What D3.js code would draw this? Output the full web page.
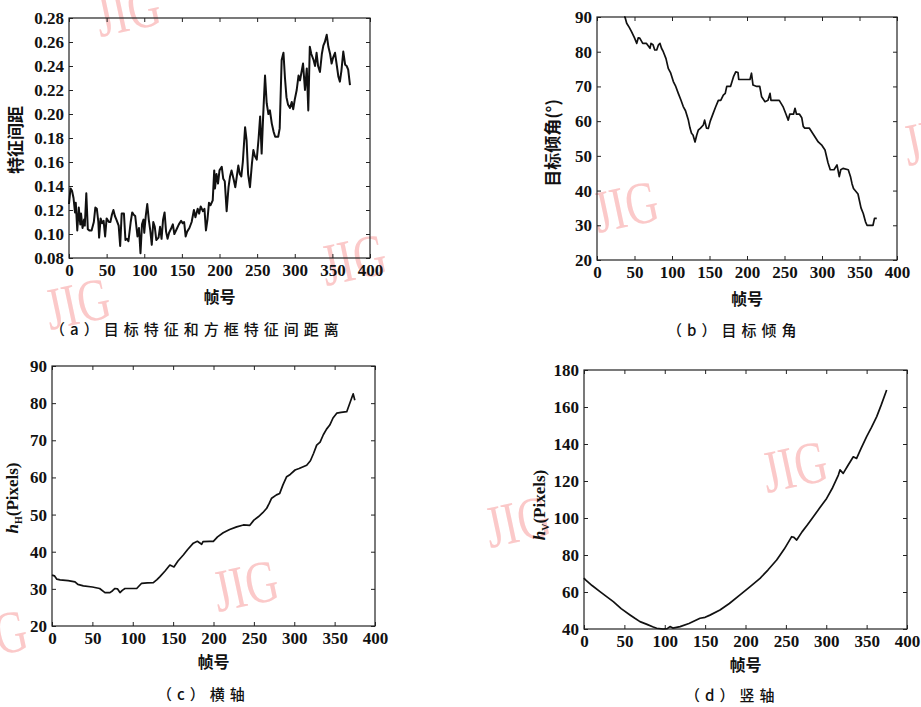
<!DOCTYPE html>
<html>
<head>
<meta charset="utf-8">
<script src="https://cdn.jsdelivr.net/npm/d3@7"></script>
<style>
  body { margin: 0; background: #fff; }
</style>
</head>
<body>
<div id="chart"></div>
<script>
// ---- data ----
// (a) distance between target feature and box feature
const aFrames = [0,2,4,6,8,9,11,13,15,16,18,20,21,23,25,27,30,33,35,37,39,40,42,44,46,48,50,53,55,57,59,61,63,66,68,70,73,75,77,79,82,84,86,88,91,93,95,97,99,100,102,104,106,108,110,112,114,116,119,121,123,125,127,129,131,133,136,138,140,143,146,149,151,153,155,157,160,163,166,168,171,173,175,178,180,182,184,186,188,191,193,194,196,198,200,203,205,207,209.5,212,214,216,219,221,223,225,227,229,231,234,236,238,240.5,243,245,247,249.5,252,254,256,258,260.5,262.7,265,267,269.5,272,274,278,280,282.6,285,287,289,291,293.7,296,298,300,302.6,305,307,309,311,313.6,316,318,320,322,325,327,329,331,333.5,336,338,340,342.5,344.7,347,349,351,353.5,356,358,360,362,364.5,367,369,371,373.4];
const aValues = [0.125,0.138,0.136,0.130,0.118,0.126,0.103,0.122,0.108,0.117,0.105,0.112,0.107,0.134,0.104,0.103,0.103,0.110,0.122,0.121,0.110,0.097,0.113,0.109,0.111,0.098,0.113,0.110,0.110,0.116,0.120,0.115,0.112,0.107,0.090,0.117,0.117,0.095,0.096,0.094,0.110,0.118,0.116,0.115,0.098,0.105,0.084,0.108,0.112,0.101,0.115,0.125,0.112,0.103,0.091,0.110,0.106,0.095,0.097,0.106,0.096,0.112,0.118,0.102,0.096,0.101,0.105,0.108,0.100,0.104,0.108,0.111,0.109,0.110,0.098,0.102,0.105,0.110,0.120,0.114,0.121,0.117,0.123,0.119,0.121,0.103,0.112,0.126,0.124,0.128,0.153,0.138,0.150,0.142,0.153,0.156,0.146,0.144,0.119,0.139,0.148,0.153,0.145,0.139,0.148,0.157,0.150,0.148,0.160,0.189,0.178,0.150,0.139,0.158,0.170,0.165,0.162,0.180,0.198,0.167,0.198,0.232,0.209,0.200,0.203,0.192,0.185,0.181,0.181,0.188,0.245,0.251,0.230,0.214,0.208,0.205,0.210,0.204,0.212,0.220,0.232,0.228,0.235,0.242,0.220,0.238,0.203,0.256,0.250,0.245,0.240,0.251,0.240,0.235,0.250,0.257,0.260,0.266,0.256,0.250,0.242,0.247,0.251,0.240,0.231,0.227,0.236,0.252,0.241,0.240,0.237,0.224];

// (b) target tilt angle
const bFrames = [36,37.3,39.6,43,46,50,53,55,57,61,66,70.7,72,74.7,77,79.6,82,84,86,88.4,92,95,98,101.8,105,108.4,112,115,118,121.8,124,126,128,130.7,133,135,138,141.8,143.5,146,148.4,151,155,158,161.8,165,168.4,171,173,178,182,185,188,189,194,199,204,206,208,213,217,219.5,224,228,230.7,232,237,243,248,252,255,257,262,264,266,270,273,275,277,283,286,289,295,300,304,308,311,316,320,323,325,328,335,338,340,342,348,350,352,355,358,360,365,368,370,373];
const bValues = [90,90,88.2,87,85.8,84,82.4,84,83.9,82.4,82.4,81,82.4,82,80.5,80.5,82,82.4,81,80,78,75.2,74,71.4,70,68,66,64.2,63,60.3,58,56.5,56,54,56,57.4,58,58.9,60.3,58,57.9,60,62.3,64,66,66,67.5,68,70,70,72.8,74.2,74,72,72,72,72,73.8,70.4,70,70,67,65.6,66,68,66,66,66,64.2,62,60.3,62,62,63.7,62,62,61,58.5,58,58,57,56,54,53,51.7,48,46,46,47.4,44,46,46.4,46,44,42,40.6,39,37,35,33.4,31,30,30,30,32,32];

// (c) horizontal axis h_H
const cFrames = [0,3,6,10,20,28.5,32,38.8,50,59,65.6,71.8,75,78,81,84.2,87,90.4,100,104.9,111,118,125.5,130,133.7,140,146,151,156,162.6,168,175,180,185.3,187,195,199.8,205,212,220,228.7,237,245,250,255.5,261,265.9,269,272,278,282,286,290.6,295,301,306,315.4,320,324,327.8,332,336,340,344,348,352.6,358,365,368,371,373,375];
const cValues = [33.7,33.5,32.6,32.4,32.2,31.9,31.2,30.8,30.5,30.1,29,29,29.5,30.1,30,29,29.6,30.1,30.1,30.1,31.5,31.6,31.7,32.5,33.3,34.8,36.4,35.9,37.5,39.1,40.6,42.3,42.8,42,42.7,42.8,42.8,44,45.1,46,46.7,47.2,47.1,48.5,49.4,50.5,51.7,53,54.4,55.3,55.7,58,60.2,60.8,62,62.4,63.3,64.5,66.5,68.7,69.5,71.5,73,74.1,76,77.3,77.5,77.7,79.5,81.3,82.5,80.8];

// (d) vertical axis h_V
const dFrames = [0,1.2,10,19.8,28,36.3,46,57,63,69.3,78,85,90,98,103,106.5,110,119,130,143.7,150,156,168.4,180,193.2,205,218,228,238.6,248,257.2,260,263.4,270,277,284,292,300.5,308,315,317,321,327,333.5,337.6,343,350,356,362.5,368,374.8];
const dValues = [67.6,66.8,63.5,60.2,57.5,54.8,51,47.6,45.8,44,42.5,41.2,40.4,40,40.2,41.3,40.5,41.3,43,45.8,46.3,47.5,50.3,53.8,58.4,62.6,67.4,72,77.3,83.2,89.9,89.5,88.1,92.5,96.5,100.7,105.5,110.6,116.5,123.2,126,124.1,128.5,133.1,132.2,137.5,144,149,154.8,161,169.2];

const xTicks = [0, 50, 100, 150, 200, 250, 300, 350, 400];
const aYTicks = [0.08, 0.10, 0.12, 0.14, 0.16, 0.18, 0.20, 0.22, 0.24, 0.26, 0.28];
const bYTicks = [20, 30, 40, 50, 60, 70, 80, 90];
const cYTicks = [20, 30, 40, 50, 60, 70, 80, 90];
const dYTicks = [40, 60, 80, 100, 120, 140, 160, 180];

const captions = ["（a）目标特征和方框特征间距离", "（b）目标倾角", "（c）横轴", "（d）竖轴"];
const xLabel = "帧号";

const W = 921, H = 707;
const svg = d3.select("#chart").append("svg")
    .attr("width", W)
    .attr("height", H)
    .style("font-family", "'Liberation Serif', serif");

// watermarks (light pink "JIG")
const marks = [[100, 37], [326, 286], [50, 330], [598, 233], [908, 166], [218, 612], [-33, 662], [767, 493], [490, 548]];
svg.append("g").selectAll("text")
  .data(marks)
  .join("text")
    .attr("transform", d => `translate(${d[0]},${d[1]}) rotate(-12) scale(0.75,1)`)
    .style("font-size", "60px")
    .style("fill", "#fbc9c9")
    .text("JIG");

const panels = [
  {frames: aFrames, values: aValues, yTicks: aYTicks, fmt: d3.format(".2f"),
   left: 69, top: 18, right: 370, bottom: 258, xlabY: 303, cap: [50, 335], yl: [16, 140]},
  {frames: bFrames, values: bValues, yTicks: bYTicks, fmt: d3.format("d"),
   left: 597, top: 17, right: 897, bottom: 260, xlabY: 305, cap: [667, 336], yl: [553, 143]},
  {frames: cFrames, values: cValues, yTicks: cYTicks, fmt: d3.format("d"),
   left: 52, top: 366, right: 375, bottom: 626, xlabY: 668, cap: [157, 700], yl: [12, 498]},
  {frames: dFrames, values: dValues, yTicks: dYTicks, fmt: d3.format("d"),
   left: 584, top: 370, right: 907, bottom: 629, xlabY: 671, cap: [685, 701], yl: [539, 505]}
];

panels.forEach(function(p, i) {
  const w = p.right - p.left, h = p.bottom - p.top;
  const g = svg.append("g").attr("transform", `translate(${p.left},${p.top})`);

  const x = d3.scaleLinear().domain([0, 400]).range([0, w]);
  const y = d3.scaleLinear().domain(d3.extent(p.yTicks)).range([h, 0]);

  // inward ticks on all four sides, MATLAB style
  const bottomAx = g.append("g").attr("transform", `translate(0,${h})`)
    .call(d3.axisBottom(x).tickValues(xTicks).tickSizeInner(-4).tickSizeOuter(0).tickPadding(6));
  const leftAx = g.append("g")
    .call(d3.axisLeft(y).tickValues(p.yTicks).tickFormat(p.fmt).tickSizeInner(-4).tickSizeOuter(0).tickPadding(5));
  const topAx = g.append("g")
    .call(d3.axisTop(x).tickValues(xTicks).tickSizeInner(-4).tickSizeOuter(0).tickFormat(""));
  const rightAx = g.append("g").attr("transform", `translate(${w},0)`)
    .call(d3.axisRight(y).tickValues(p.yTicks).tickSizeInner(-4).tickSizeOuter(0).tickFormat(""));

  [bottomAx, leftAx, topAx, rightAx].forEach(function(ax) {
    ax.select(".domain").remove();
    ax.selectAll("line").attr("stroke", "#222");
    ax.selectAll("text")
      .attr("fill", "#111")
      .style("font-family", "'Liberation Serif', serif")
      .style("font-weight", "bold")
      .style("font-size", "17px");
  });

  g.append("rect")
    .attr("width", w)
    .attr("height", h)
    .attr("fill", "none")
    .attr("stroke", "#222")
    .attr("stroke-width", 1.2);

  const pts = p.frames.map((f, k) => [f, p.values[k]]);
  const line = d3.line()
    .x(d => x(d[0]))
    .y(d => y(d[1]));
  g.append("path")
    .datum(pts)
    .attr("fill", "none")
    .attr("stroke", "#111")
    .attr("stroke-width", i === 0 ? 2 : 1.7)
    .attr("stroke-linejoin", "round")
    .attr("d", line);

  // x label
  svg.append("text")
    .attr("x", p.left + w / 2)
    .attr("y", p.xlabY)
    .attr("text-anchor", "middle")
    .style("font-family", "'Noto Sans CJK SC', sans-serif")
    .style("font-weight", "bold")
    .style("font-size", "16px")
    .style("fill", "#111")
    .text(xLabel);

  // caption
  svg.append("text")
    .attr("x", p.cap[0])
    .attr("y", p.cap[1])
    .style("font-family", "'Noto Sans CJK SC', sans-serif")
    .style("font-weight", "500")
    .style("font-size", "15px")
    .style("letter-spacing", "5px")
    .style("fill", "#111")
    .text(captions[i]);
});

// y labels
function yLabel(p) {
  return svg.append("text")
    .attr("transform", `translate(${p.yl[0]},${p.yl[1]}) rotate(-90)`)
    .attr("text-anchor", "middle")
    .attr("dy", "0.35em")
    .style("font-weight", "bold")
    .style("fill", "#111");
}
yLabel(panels[0])
  .style("font-family", "'Noto Sans CJK SC', sans-serif")
  .style("font-size", "17px")
  .text("特征间距");
yLabel(panels[1])
  .style("font-family", "'Noto Sans CJK SC', sans-serif")
  .style("font-size", "17px")
  .text("目标倾角(°)");

[["H", panels[2]], ["V", panels[3]]].forEach(function(s) {
  const t = yLabel(s[1])
    .style("font-family", "'Liberation Serif', serif")
    .style("font-size", "17px");
  t.append("tspan").style("font-style", "italic").text("h");
  t.append("tspan").attr("dy", 4).style("font-size", "10px").text(s[0]);
  t.append("tspan").attr("dy", -4).text("(Pixels)");
});
</script>
</body>
</html>
